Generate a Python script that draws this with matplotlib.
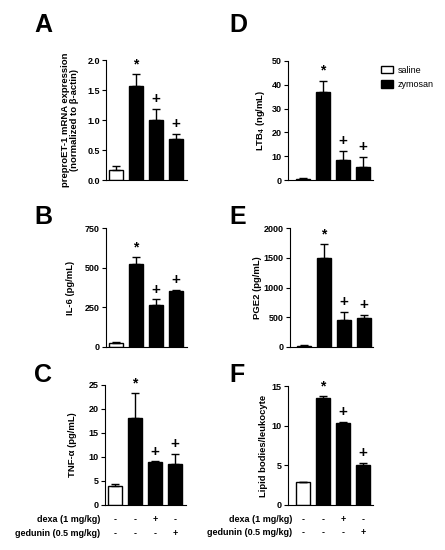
import matplotlib
matplotlib.use('Agg')
import matplotlib.pyplot as plt
import numpy as np

plt.rcParams['font.family'] = ['Liberation Sans', 'DejaVu Sans']
plt.rcParams['font.weight'] = 'bold'
plt.rcParams['mathtext.fontset'] = 'custom'
plt.rcParams['mathtext.rm'] = 'Liberation Sans'
plt.rcParams['mathtext.bf'] = 'Liberation Sans:bold'

# groups: saline, zymosan, zymosan+dexa, zymosan+gedunin
groups = ['saline', 'zymosan', 'zymosan + dexa', 'zymosan + gedunin']
dexa_signs = ['-', '-', '+', '-']
gedunin_signs = ['-', '-', '-', '+']
marks = ['', '*', '+', '+']

et1_mean = [0.17, 1.57, 1.00, 0.69]
et1_sem = [0.06, 0.19, 0.19, 0.08]
ltb4_mean = [0.5, 36.8, 8.3, 5.4]
ltb4_sem = [0.3, 5.0, 4.0, 4.4]
il6_mean = [25, 522, 263, 352]
il6_sem = [7, 45, 37, 10]
pge2_mean = [20, 1495, 455, 485]
pge2_sem = [12, 230, 130, 55]
tnf_mean = [3.9, 18.2, 8.9, 8.5]
tnf_sem = [0.5, 5.1, 0.2, 2.2]
lipid_mean = [2.85, 13.45, 10.35, 5.0]
lipid_sem = [0.05, 0.3, 0.1, 0.35]

W, H = 445, 550
fig = plt.figure(figsize=(W / 100, H / 100), dpi=100)


def make_ax(x0, x1, ytop, ybot):
    return fig.add_axes([x0 / W, (H - ybot) / H, (x1 - x0) / W, (ybot - ytop) / H])


def panel(ax, mean, sem, ticks, fmt, ylabel, labx, letter, letpos, xlim):
    x = np.arange(len(mean))
    colors = ['white', 'black', 'black', 'black']
    bars = ax.bar(x, mean, width=0.7, color=colors, edgecolor='black', linewidth=1)
    ax.errorbar(x, mean, yerr=[np.zeros(len(sem)), sem], fmt='none',
                ecolor='black', elinewidth=1, capsize=3, capthick=1)
    for xi, m, s, mk in zip(x, mean, sem, marks):
        if mk:
            ax.annotate(mk, (xi, m + s), xytext=(0, 2), textcoords='offset points',
                        ha='center', va='bottom', fontsize=11 if mk == '+' else 10,
                        fontweight='bold')
    ax.set_xlim(*xlim)
    ax.set_ylim(0, ticks[-1])
    ax.set_yticks(ticks)
    ax.set_yticklabels([fmt.format(t) for t in ticks], fontsize=6.5, fontweight='bold')
    ax.set_xticks([])
    for sp in ['top', 'right']:
        ax.spines[sp].set_visible(False)
    ax.spines['left'].set_linewidth(0.8)
    ax.spines['bottom'].set_linewidth(0.8)
    ax.tick_params(axis='y', length=3, width=0.8, pad=1.5)
    ax.set_ylabel(ylabel, fontsize=6.8, fontweight='bold', linespacing=1.1)
    ax.yaxis.set_label_coords(labx, 0.5)
    fig.text(letpos[0] / W, 1 - letpos[1] / H, letter, fontsize=18,
             fontweight='bold', ha='left', va='center')
    return bars


def sign_rows(ax, xlabel_right):
    for row, (name, signs) in enumerate([('dexa (1 mg/kg)', dexa_signs),
                                         ('gedunin (0.5 mg/kg)', gedunin_signs)]):
        ypos = -0.12 - row * 0.115
        ax.text(xlabel_right, ypos, name, transform=ax.transAxes, ha='right',
                va='center', fontsize=6.5, fontweight='bold')
        for xi, s in enumerate(signs):
            ax.text(xi, ypos, s, transform=ax.get_xaxis_transform(), ha='center',
                    va='center', fontsize=6.5, fontweight='bold')


left_xlim = (-0.5, 3.55)
right_xlim = (-0.75, 3.5)

axA = make_ax(106, 187, 60, 180)
panel(axA, et1_mean, et1_sem, [0, 0.5, 1.0, 1.5, 2.0], '{:.1f}',
      'preproET-1 mRNA expression\n(normalized to β-actin)', -0.33, 'A', (34, 25), left_xlim)

axD = make_ax(288, 373, 61, 180)
bars = panel(axD, ltb4_mean, ltb4_sem, [0, 10, 20, 30, 40, 50], '{:d}',
             r'LTB$_\mathbf{4}$ (ng/mL)', -0.25, 'D', (229, 25), right_xlim)
axD.legend([bars[0], bars[1]], ['saline', 'zymosan'], loc='upper left',
           bbox_to_anchor=(377 / W, 1 - 62 / H), bbox_transform=fig.transFigure,
           frameon=False, prop={'size': 6.5, 'weight': 'normal'},
           handlelength=1.4, handleheight=0.9,
           handletextpad=0.5, borderaxespad=0, labelspacing=0.6)

axB = make_ax(106, 187, 228, 347)
panel(axB, il6_mean, il6_sem, [0, 250, 500, 750], '{:d}',
      'IL-6 (pg/mL)', -0.38, 'B', (34, 217), left_xlim)

axE = make_ax(290, 373, 228, 347)
panel(axE, pge2_mean, pge2_sem, [0, 500, 1000, 1500, 2000], '{:d}',
      'PGE2 (pg/mL)', -0.34, 'E', (229, 217), (-0.7, 3.45))

axC = make_ax(105, 186, 385, 505)
panel(axC, tnf_mean, tnf_sem, [0, 5, 10, 15, 20, 25], '{:d}',
      'TNF-α (pg/mL)', -0.35, 'C', (34, 375), left_xlim)
sign_rows(axC, -0.06)

axF = make_ax(288, 373, 386, 505)
panel(axF, lipid_mean, lipid_sem, [0, 5, 10, 15], '{:d}',
      'Lipid bodies/leukocyte', -0.235, 'F', (229, 375), right_xlim)
sign_rows(axF, 0.05)

fig.savefig('out.png', dpi=100)
